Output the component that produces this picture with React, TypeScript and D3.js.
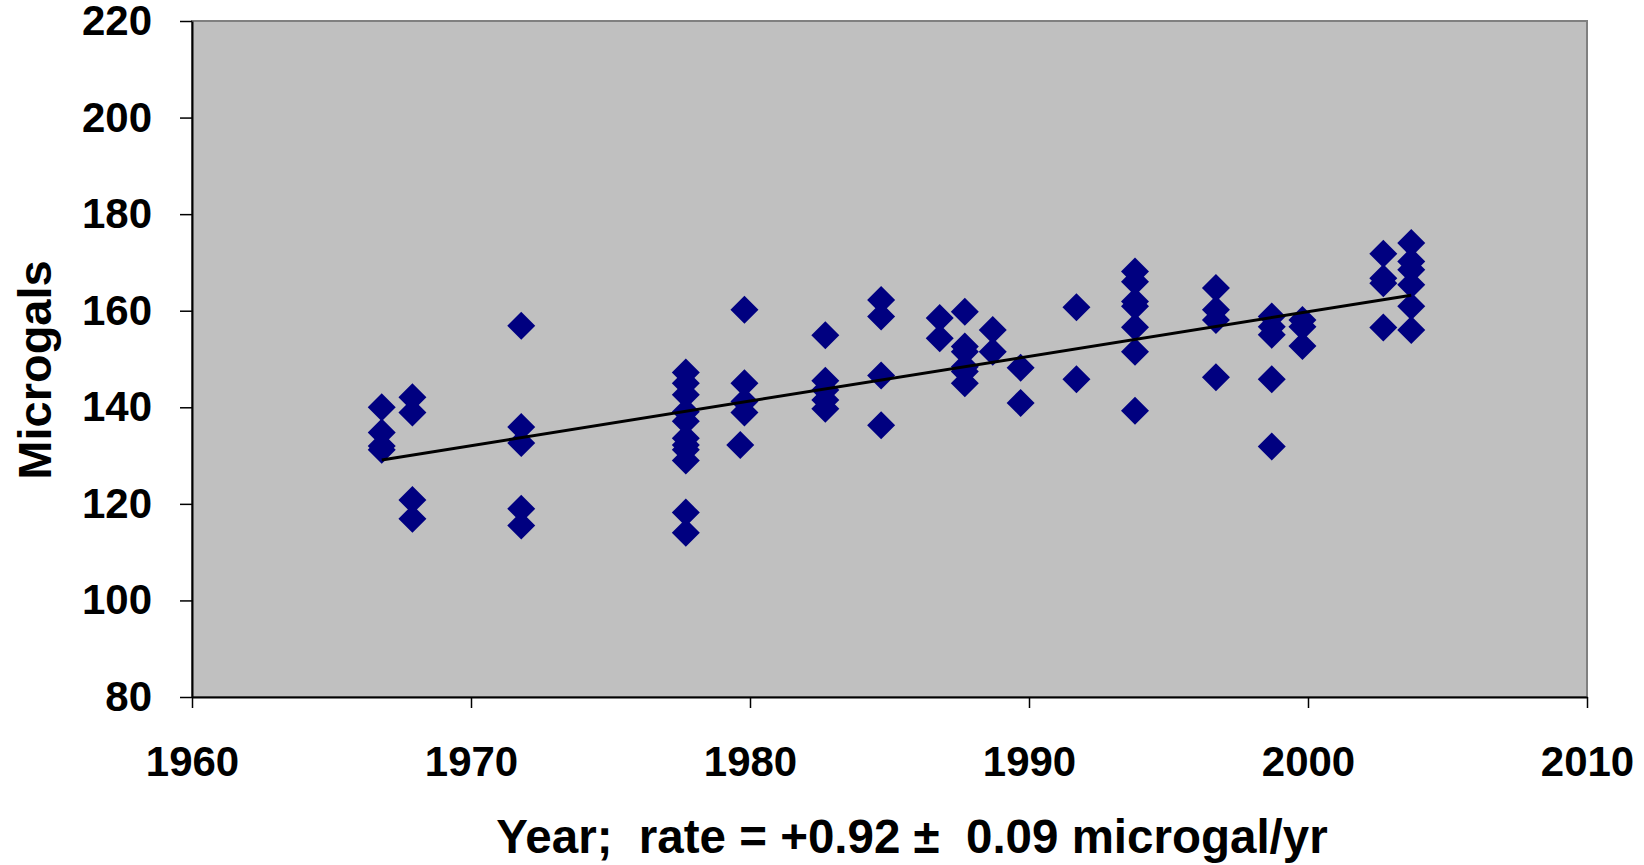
import React, { useEffect, useRef } from "react";
import * as d3 from "d3";

const WIDTH = 1644;
const HEIGHT = 865;
const MARGIN = { LEFT: 192, RIGHT: 57, TOP: 21, BOTTOM: 168 };
const PLOT_W = WIDTH - MARGIN.LEFT - MARGIN.RIGHT;
const PLOT_H = HEIGHT - MARGIN.TOP - MARGIN.BOTTOM;

// survey campaigns (decimal year) and the gravity values measured in each
const campaignYears = [
  1966.8, 1967.9, 1971.8, 1977.7, 1979.8, 1979.65, 1982.7, 1984.7, 1986.8,
  1987.7, 1988.7, 1989.7, 1991.7, 1993.8, 1996.7, 1998.7, 1999.8, 2002.7,
  2003.7,
];
const campaignValues = [
  [140.0, 134.8, 132.0, 131.2],
  [142.1, 138.9, 120.8, 116.9],
  [156.9, 135.9, 132.6, 119.0, 115.5],
  [147.2, 145.0, 142.6, 139.1, 137.1, 133.6, 132.2, 131.2, 129.0, 118.2, 114.0],
  [160.2, 145.0, 141.2, 138.9],
  [132.2],
  [154.9, 145.5, 143.6, 141.5, 139.7],
  [162.2, 158.8, 146.6, 136.3],
  [158.5, 154.3],
  [159.8, 152.6, 151.5, 148.4, 147.4, 145.0],
  [156.0, 151.5],
  [148.2, 140.9],
  [160.7, 145.8],
  [168.1, 166.0, 161.9, 160.9, 156.6, 151.5, 139.3],
  [164.7, 160.2, 158.1, 146.2],
  [158.8, 156.7, 155.0, 145.8, 131.9],
  [158.1, 156.7, 152.7],
  [171.8, 166.7, 165.7, 156.5],
  [174.0, 170.2, 168.5, 165.4, 160.9, 156.0],
];

// fitted trend line end points
const trendYears = [1966.8, 2003.7];
const trendValues = [129.1, 163.2];

const xTicks = [1960, 1970, 1980, 1990, 2000, 2010];
const yTicks = [80, 100, 120, 140, 160, 180, 200, 220];

const FONT = "'Liberation Sans', Arial, sans-serif";

export default function App() {
  const ref = useRef<SVGSVGElement>(null);

  useEffect(() => {
    const svg = d3.select(ref.current);
    svg.selectAll("*").remove();

    const x = d3.scaleLinear().domain([1960, 2010]).range([0, PLOT_W]);
    const y = d3.scaleLinear().domain([80, 220]).range([PLOT_H, 0]);

    const g = svg
      .append("g")
      .attr("transform", `translate(${MARGIN.LEFT}, ${MARGIN.TOP})`);

    // plot area
    g.append("rect")
      .attr("width", PLOT_W)
      .attr("height", PLOT_H)
      .attr("fill", "#C0C0C0")
      .attr("stroke", "#808080")
      .attr("stroke-width", 2);

    // axes
    const xAxis = g
      .append("g")
      .attr("transform", `translate(0, ${PLOT_H})`)
      .call(
        d3
          .axisBottom(x)
          .tickValues(xTicks)
          .tickFormat((d) => String(d))
          .tickSizeInner(11)
          .tickSizeOuter(0)
          .tickPadding(38)
      );
    const yAxis = g.append("g").call(
      d3
        .axisLeft(y)
        .tickValues(yTicks)
        .tickFormat((d) => String(d))
        .tickSizeInner(12)
        .tickSizeOuter(0)
        .tickPadding(28)
    );
    [xAxis, yAxis].forEach((a) => {
      a.select(".domain").attr("stroke", "#000").attr("stroke-width", 2);
      a.selectAll(".tick line").attr("stroke", "#000").attr("stroke-width", 1.5);
      a.selectAll(".tick text")
        .attr("fill", "#000")
        .attr("font-family", FONT)
        .attr("font-weight", "bold")
        .attr("font-size", 42);
    });

    // points
    const points = campaignYears.flatMap((yr, i) =>
      campaignValues[i].map((v) => ({ yr, v }))
    );
    const diamond = d3.symbol(d3.symbolSquare, 392);
    g.selectAll("path.pt")
      .data(points)
      .enter()
      .append("path")
      .attr("class", "pt")
      .attr("d", diamond)
      .attr("fill", "#000080")
      .attr("transform", (d) => `translate(${x(d.yr)}, ${y(d.v)}) rotate(45)`);

    // trend
    const line = d3
      .line<number>()
      .x((d) => x(d))
      .y((d, i) => y(trendValues[i]));
    g.append("path")
      .attr("d", line(trendYears))
      .attr("fill", "none")
      .attr("stroke", "#000")
      .attr("stroke-width", 3);

    // Y Label
    svg
      .append("text")
      .attr("transform", `translate(51, 370) rotate(-90)`)
      .attr("text-anchor", "middle")
      .attr("font-family", FONT)
      .attr("font-weight", "bold")
      .attr("font-size", 47)
      .text("Microgals");

    // X Label
    svg
      .append("text")
      .attr("x", 912)
      .attr("y", 853)
      .attr("text-anchor", "middle")
      .attr("font-family", FONT)
      .attr("font-weight", "bold")
      .attr("font-size", 47.5)
      .attr("xml:space", "preserve")
      .style("white-space", "pre")
      .text("Year;  rate = +0.92 \u00B1  0.09 microgal/yr");
  }, []);

  return (
    <svg
      ref={ref}
      width={WIDTH}
      height={HEIGHT}
      style={{ position: "absolute", left: 0, top: 0, background: "#fff" }}
    />
  );
}
